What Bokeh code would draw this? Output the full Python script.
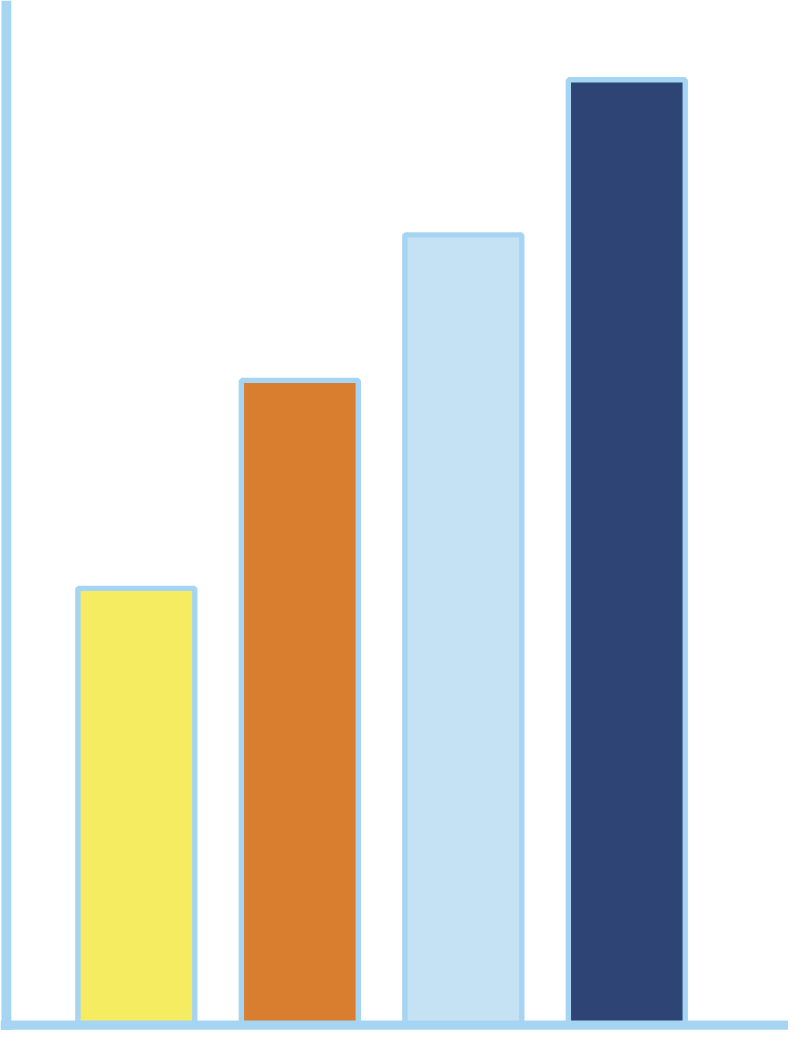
from bokeh.plotting import figure
from bokeh.models import Range1d, Span, ColumnDataSource
from bokeh.embed import file_html
from bokeh.resources import INLINE

# Data
categories = ["A", "B", "C", "D"]
values = [46.2, 68.2, 83.6, 100.0]
colors = ["#F5EC62", "#D97D2F", "#C5E2F4", "#2E4474"]

OUTLINE = "#A6D5F3"

W, H = 788, 1030
sx = W / 804
sy = H / 1046

x_pos = list(range(len(categories)))
source = ColumnDataSource(dict(x=x_pos, top=values, color=colors, cat=categories))

x_start = -0.831
x_end = x_start + 804 / 166.8
y_start = -0.573
y_end = 108.39

p = figure(width=W, height=H, output_backend="svg", toolbar_location=None,
           x_range=Range1d(x_start, x_end), y_range=Range1d(y_start, y_end),
           x_axis_location=None, y_axis_location=None, min_border=0,
           outline_line_color=None, background_fill_color="white",
           border_fill_color="white")
p.grid.visible = False

p.vbar(x="x", top="top", bottom=0, width=0.715, source=source,
       fill_color="color", line_color=OUTLINE, line_width=5.5 * sx)

left_axis = Span(location=x_start + 6 / 166.8, dimension="height",
                 line_color=OUTLINE, line_width=10 * sx, level="overlay")
bottom_axis = Span(location=0, dimension="width",
                   line_color=OUTLINE, line_width=9.5 * sy, level="overlay")
p.add_layout(left_axis)
p.add_layout(bottom_axis)

open("out.html", "w").write(file_html(p, INLINE))
